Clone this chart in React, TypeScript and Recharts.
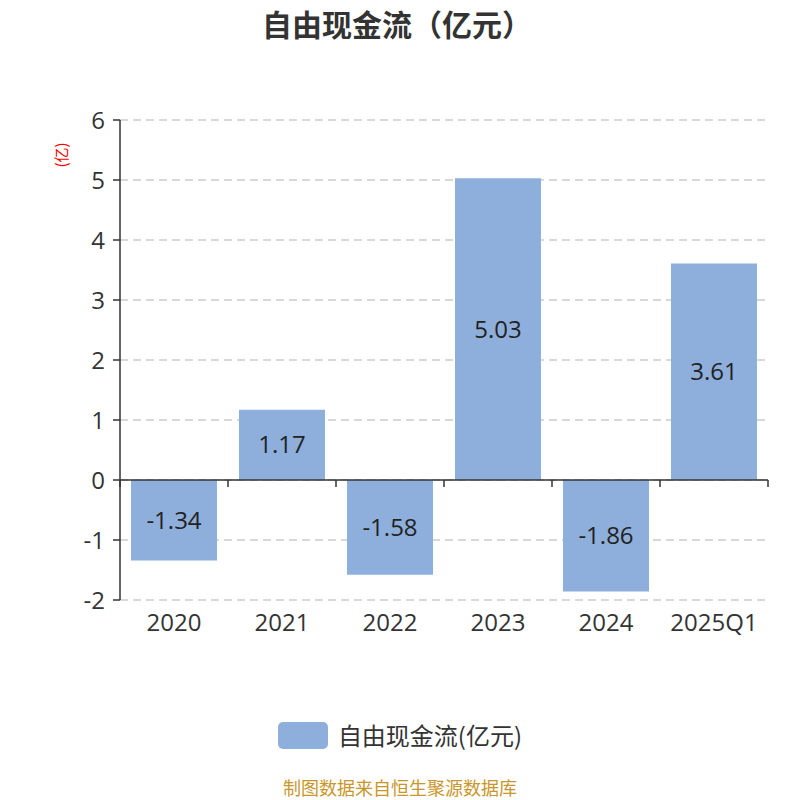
import { BarChart, Bar, XAxis, YAxis, CartesianGrid, ReferenceLine, LabelList, Legend } from 'recharts';

const categories = ['2020', '2021', '2022', '2023', '2024', '2025Q1'];
const freeCashFlow = [-1.34, 1.17, -1.58, 5.03, -1.86, 3.61];
const yTicks = [-2, -1, 0, 1, 2, 3, 4, 5, 6];

const data = categories.map((name, i) => ({ name, value: freeCashFlow[i] }));

const FONT = '"Open Sans", "Noto Sans CJK SC", sans-serif';
const CJK = '"Noto Sans CJK SC", sans-serif';
const BAR_COLOR = '#8eaedb';

function ZeroAxis(props: any) {
  const { x1, y1, x2 } = props;
  const n = categories.length;
  const step = (x2 - x1) / n;
  return (
    <g>
      <line x1={x1} y1={y1} x2={x2} y2={y1} stroke="#333" strokeWidth={1.5} />
      {Array.from({ length: n + 1 }, (_, i) => (
        <line key={i} x1={x1 + i * step} y1={y1} x2={x1 + i * step} y2={y1 + 7} stroke="#333" strokeWidth={1.5} />
      ))}
    </g>
  );
}

function UnitLabel(props: any) {
  const { viewBox } = props;
  const cx = viewBox.x;
  const cy = viewBox.y + 35;
  return (
    <text x={cx} y={cy} transform={`rotate(-90 ${cx} ${cy})`} textAnchor="middle" dominantBaseline="central" fill="red" fontSize={15} fontFamily={CJK}>
      (亿)
    </text>
  );
}

function LegendContent({ payload }: any) {
  return (
    <div style={{ display: 'flex', justifyContent: 'center', alignItems: 'center', height: 30 }}>
      {(payload || []).map((p: any) => (
        <div key={p.value} style={{ display: 'flex', alignItems: 'center' }}>
          <span style={{ width: 50, height: 27, borderRadius: 5, background: p.color, display: 'inline-block', marginRight: 10 }} />
          <span style={{ fontSize: 24, lineHeight: '30px', color: '#333', fontFamily: CJK }}>{p.value}</span>
        </div>
      ))}
    </div>
  );
}

export default function App() {
  return (
    <div style={{ position: 'absolute', left: 0, top: 0, width: 800, height: 800, background: '#fff', fontFamily: FONT }}>
      <div style={{ position: 'absolute', top: 3, left: -3, width: 800, textAlign: 'center', fontSize: 30, lineHeight: '40px', fontWeight: 'bold', color: '#333', fontFamily: CJK }}>
        自由现金流（亿元）
      </div>
      <BarChart width={800} height={800} data={data} margin={{ top: 120, right: 32, left: 60, bottom: 120 }}>
        <CartesianGrid vertical={false} stroke="#ccc" strokeWidth={1.5} strokeDasharray="8 5" />
        <XAxis
          dataKey="name"
          axisLine={false}
          tickLine={false}
          tickMargin={8}
          height={50}
          tick={{ fontSize: 24, fill: '#333', fontFamily: FONT }}
        />
        <YAxis
          width={60}
          domain={[-2, 6]}
          ticks={yTicks}
          interval={0}
          axisLine={{ stroke: '#333', strokeWidth: 1.5 }}
          tickLine={{ stroke: '#333', strokeWidth: 1.5 }}
          tickSize={7}
          tickMargin={8}
          tick={{ fontSize: 24, fill: '#333', fontFamily: FONT }}
          label={<UnitLabel />}
        />
        <ReferenceLine y={0} shape={ZeroAxis} />
        <Bar dataKey="value" name="自由现金流(亿元)" fill={BAR_COLOR} barSize={86} isAnimationActive={false}>
          <LabelList dataKey="value" position="center" fill="#222" fontSize={24} fontFamily={FONT} />
        </Bar>
        <Legend content={<LegendContent />} wrapperStyle={{ top: 720, left: 0, width: 800 }} />
      </BarChart>
      <div style={{ position: 'absolute', top: 777, left: 0, width: 800, textAlign: 'center', fontSize: 18, lineHeight: '20px', color: '#c8962a', fontFamily: CJK }}>
        制图数据来自恒生聚源数据库
      </div>
    </div>
  );
}
